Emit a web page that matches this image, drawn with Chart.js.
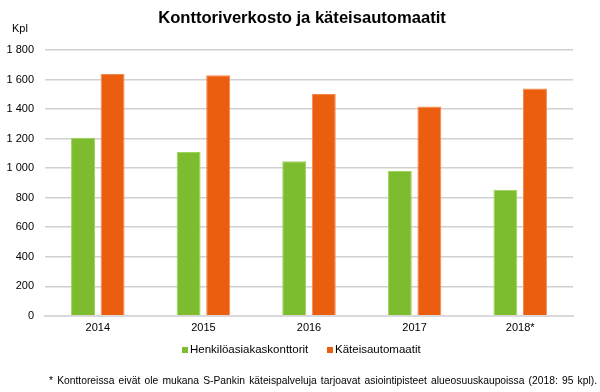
<!DOCTYPE html>
<html>
<head>
<meta charset="utf-8">
<script src="https://cdn.jsdelivr.net/npm/chart.js@4"></script>
<style>
  html, body { margin: 0; padding: 0; background: #fff; }
  #wrap { width: 600px; height: 392px; position: relative; }
</style>
</head>
<body>
<div id="wrap"><canvas id="chart"></canvas></div>
<script>
// chart data
var years = ["2014", "2015", "2016", "2017", "2018*"];
var konttorit = [1205, 1110, 1046, 980, 854];
var automaatit = [1638, 1629, 1502, 1418, 1539];
var seriesNames = ["Henkilöasiakaskonttorit", "Käteisautomaatit"];
var titleText = "Konttoriverkosto ja käteisautomaatit";
var unitText = "Kpl";
var footnote = "* Konttoreissa eivät ole mukana S-Pankin käteispalveluja tarjoavat asiointipisteet alueosuuskaupoissa (2018: 95 kpl).";

var FONT = "'Liberation Sans', Arial, sans-serif";

// draws title, "Kpl", legend and the footnote
var extraText = {
  id: "extraText",
  afterDraw: function(chart) {
    var ctx = chart.ctx;
    ctx.save();
    ctx.fillStyle = "#000";
    ctx.textBaseline = "middle";

    ctx.font = "bold 16.6px " + FONT;
    ctx.textAlign = "center";
    ctx.fillText(titleText, 302, 18);

    ctx.font = "11px " + FONT;
    ctx.textAlign = "left";
    ctx.fillText(unitText, 12, 29);

    // legend
    ctx.font = "11.5px " + FONT;
    var lx = [182, 327];
    chart.data.datasets.forEach(function(ds, i) {
      ctx.fillStyle = ds.backgroundColor;
      ctx.fillRect(lx[i], 347, 6, 6);
      ctx.fillStyle = "#000";
      ctx.fillText(ds.label, lx[i] + 8, 350);
    });

    // footnote, stretched across the width
    ctx.font = "10.3px " + FONT;
    var left = 49, right = 597;
    var w = ctx.measureText(footnote).width;
    var gaps = footnote.split(" ").length - 1;
    var extra = (right - left - w) / gaps;
    if (extra > 0) ctx.wordSpacing = extra + "px";
    ctx.fillText(footnote, left, 381);
    ctx.restore();
  }
};

Chart.defaults.font.family = FONT;
Chart.defaults.color = "#000";

new Chart(document.getElementById("chart"), {
  type: "bar",
  data: {
    labels: years,
    datasets: [{
      label: seriesNames[0],
      data: konttorit,
      backgroundColor: "#7cbc2e",
      borderColor: "#9ed35c",
      borderWidth: 1
    }, {
      label: seriesNames[1],
      data: automaatit,
      backgroundColor: "#eb5e10",
      borderColor: "#f4874a",
      borderWidth: 1
    }]
  },
  options: {
    responsive: true,
    maintainAspectRatio: false,
    animation: false,
    datasets: {
      bar: { categoryPercentage: 0.56, barPercentage: 0.81 }
    },
    layout: { padding: { left: 0, right: 27, top: 50, bottom: 51 } },
    plugins: {
      title: { display: false },
      legend: { display: false },
      tooltip: { enabled: false }
    },
    scales: {
      x: {
        grid: { display: false, drawTicks: false },
        border: { color: "#d9d9d9", width: 2 },
        ticks: { font: { size: 11 }, padding: 6 }
      },
      y: {
        min: 0,
        max: 1800,
        afterFit: function(scale) { scale.width = 45; },
        grid: { color: "#d0d0d0", lineWidth: 1.5, drawTicks: false },
        border: { display: false },
        ticks: {
          stepSize: 200,
          padding: 11,
          font: { size: 11 },
          callback: function(v) {
            return String(v).replace(/\B(?=(\d{3})+(?!\d))/g, " ");
          }
        }
      }
    }
  },
  plugins: [extraText]
});
</script>
</body>
</html>
